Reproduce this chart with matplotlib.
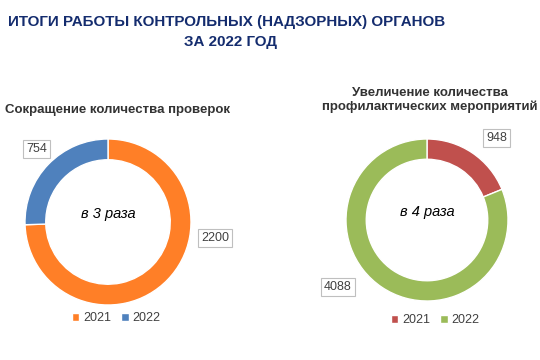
import matplotlib.pyplot as plt

plt.rcParams['font.family'] = ['Liberation Sans', 'DejaVu Sans']

years = ['2021', '2022']
checks = [2200, 754]
prevention = [948, 4088]
checks_colors = ['#FF7F27', '#4F81BD']
prevention_colors = ['#C0504D', '#9BBB59']

W, H = 540, 360
fig = plt.figure(figsize=(W / 100, H / 100), dpi=100)

navy = '#142C6E'
fig.text(227 / W, 1 - 22 / H, 'ИТОГИ РАБОТЫ КОНТРОЛЬНЫХ (НАДЗОРНЫХ) ОРГАНОВ',
         ha='center', va='center', fontsize=10.9, fontweight='bold', color=navy)
fig.text(230 / W, 1 - 42 / H, 'ЗА 2022 ГОД',
         ha='center', va='center', fontsize=10.9, fontweight='bold', color=navy)

fig.text(5 / W, 1 - 110 / H, 'Сокращение количества проверок',
         ha='left', va='center', fontsize=9.5, fontweight='bold', color='#333333')
fig.text(430 / W, 1 - 100 / H, 'Увеличение количества\nпрофилактических мероприятий',
         ha='center', va='center', fontsize=9.5, fontweight='bold', color='#333333',
         linespacing=1.1)


def donut(cx, cy, r, values, colors, center_text, label_pos, legend_y):
    ax = fig.add_axes([(cx - r) / W, 1 - (cy + r) / H, 2 * r / W, 2 * r / H])
    wedges, _ = ax.pie(values, colors=colors, startangle=90, counterclock=False,
                       radius=1, wedgeprops=dict(width=0.25, edgecolor='white', linewidth=1))
    ax.set_xlim(-1, 1)
    ax.set_ylim(-1, 1)
    ax.set_aspect('equal')
    ax.axis('off')
    ax.text(0, 0.1, center_text, ha='center', va='center', fontsize=10.5,
            style='italic', color='black')
    for v, (x, y) in zip(values, label_pos):
        ax.text(x, y, str(v), ha='center', va='center', fontsize=9, color='#404040',
                bbox=dict(boxstyle='square,pad=0.25', fc='white', ec='#BFBFBF', lw=0.8),
                clip_on=False)
    leg = fig.legend(wedges, years, loc='center', bbox_to_anchor=(cx / W + 0.015, 1 - legend_y / H),
                     ncol=2, frameon=False, fontsize=9, handlelength=0.6, handleheight=0.6,
                     handletextpad=0.3, columnspacing=0.8)
    for t in leg.get_texts():
        t.set_color('#404040')
    return ax


donut(108, 222, 83, checks, checks_colors, 'в 3 раза',
      [(1.29, -0.19), (-0.86, 0.88)], 318)
donut(427, 220, 81, prevention, prevention_colors, 'в 4 раза',
      [(0.86, 1.01), (-1.10, -0.83)], 320)

fig.savefig('out.png', dpi=100)
